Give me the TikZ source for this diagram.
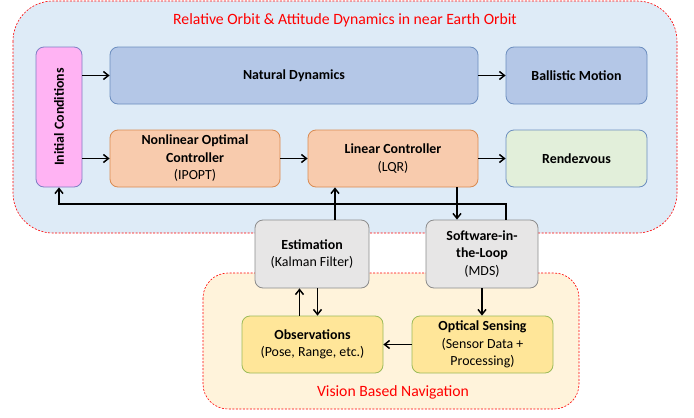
\documentclass[tikz,border=0pt]{standalone}
\usepackage{fontspec}
\setmainfont{Carlito}
\usetikzlibrary{positioning, calc, arrows.meta}
\definecolor{orbitbg}{HTML}{DEEBF7}
\definecolor{visionbg}{HTML}{FFF3DB}
\definecolor{initfill}{HTML}{FFB3F3}
\definecolor{initline}{HTML}{7F7FC4}
\definecolor{dynfill}{HTML}{B4C7E7}
\definecolor{dynline}{HTML}{6C8EBF}
\definecolor{ctrlfill}{HTML}{F8CBAD}
\definecolor{ctrlline}{HTML}{D98B52}
\definecolor{rendfill}{HTML}{E2EFDA}
\definecolor{estfill}{HTML}{E7E6E6}
\definecolor{estline}{HTML}{8C8C8C}
\definecolor{obsfill}{HTML}{FFE699}
\definecolor{obsline}{HTML}{9BBB59}
\tikzset{
	region/.style={draw=red, dash pattern=on 2pt off 1.5pt, line width=0.6pt}
}
\tikzset{
	block/.style={rounded corners=8pt, line width=0.8pt, align=center, font=\fontsize{13.9}{17.5}\selectfont}
}
\tikzset{
	flow/.style={line width=1.5pt, -{Straight Barb[length=5pt,width=8pt]}}
}
\tikzset{
	redtitle/.style={font=\fontsize{15.7}{18}\selectfont\color{red}}
}

\begin{document}
\begin{tikzpicture}[x=1pt, y=-1pt]

			\useasboundingbox (0,0) rectangle (694,418);

			\begin{scope}
				\draw[region, fill=orbitbg, rounded corners=40pt] (13,1) rectangle (677,233);
				\draw[region, fill=visionbg, rounded corners=25pt] (203,273) rectangle (579,409);

				\node[redtitle] (orbittitle) at (345,20) {Relative Orbit \& Attitude Dynamics in near Earth Orbit};
				\node[redtitle] (visiontitle) at (393,392) {Vision Based Navigation};
			\end{scope}

			\begin{scope}
				\node[block, draw=initline, fill=initfill, minimum width=46pt, minimum height=140pt] (init) at (59,117) {\rotatebox{90}{\textbf{Initial Conditions}}};

				\node[block, draw=dynline, fill=dynfill, minimum width=368pt, minimum height=57pt] (natdyn) at (294,75.5) {\textbf{Natural Dynamics}};
				\node[block, draw=dynline, fill=dynfill, minimum width=141pt, minimum height=57pt] (ball) at (576.5,75.5) {\textbf{Ballistic Motion}};

				\node[block, draw=ctrlline, fill=ctrlfill, minimum width=170pt, minimum height=57pt] (nlc) at (195,158.5) {\textbf{Nonlinear Optimal}\\\textbf{Controller}\\(IPOPT)};
				\node[block, draw=ctrlline, fill=ctrlfill, minimum width=170pt, minimum height=57pt] (lin) at (393,158.5) {\textbf{Linear Controller}\\(LQR)};
				\node[block, draw=dynline, fill=rendfill, minimum width=141pt, minimum height=57pt] (rend) at (576.5,158.5) {\textbf{Rendezvous}};

				\node[block, draw=estline, fill=estfill, minimum width=114pt, minimum height=68pt] (est) at (312,254) {\textbf{Estimation}\\(Kalman Filter)};
				\node[block, draw=estline, fill=estfill, minimum width=112pt, minimum height=68pt] (sil) at (482,254) {\textbf{Software-in-}\\\textbf{the-Loop}\\(MDS)};

				\node[block, draw=obsline, fill=obsfill, minimum width=141pt, minimum height=57pt] (obs) at (312.5,344.5) {\textbf{Observations}\\(Pose, Range, etc.)};
				\node[block, draw=obsline, fill=obsfill, minimum width=141pt, minimum height=57pt] (opt) at (482.5,344.5) {\textbf{Optical Sensing}\\(Sensor Data +\\Processing)};
			\end{scope}

			\begin{scope}
				\coordinate (fbR) at (506,204);
				\coordinate (fbL) at (59,204);
				\coordinate (estUp) at (335,204);
				\coordinate (linDown) at (457,204);

				\draw[flow] (init.east |- natdyn.west) -- (natdyn.west);
				\draw[flow] (init.east |- nlc.west) -- (nlc.west);
				\draw[flow] (natdyn) -- (ball);
				\draw[flow] (nlc) -- (lin);
				\draw[flow] (lin) -- (rend);

				\draw[flow] (sil.north -| fbR) |- (fbL) -- (init.south);
				\draw[flow] (est.north -| estUp) -- (lin.south -| estUp);
				\draw[flow] (lin.south -| linDown) -- (sil.north -| linDown);

				\draw[flow] ([xshift=-13pt]obs.north) -- ([xshift=-13pt]obs.north |- est.south);
				\draw[flow] ([xshift=5pt]obs.north |- est.south) -- ([xshift=5pt]obs.north);
				\draw[flow] (sil.south) -- (sil.south |- opt.north);
				\draw[flow] (opt) -- (obs);
			\end{scope}

		\end{tikzpicture}
\end{document}
